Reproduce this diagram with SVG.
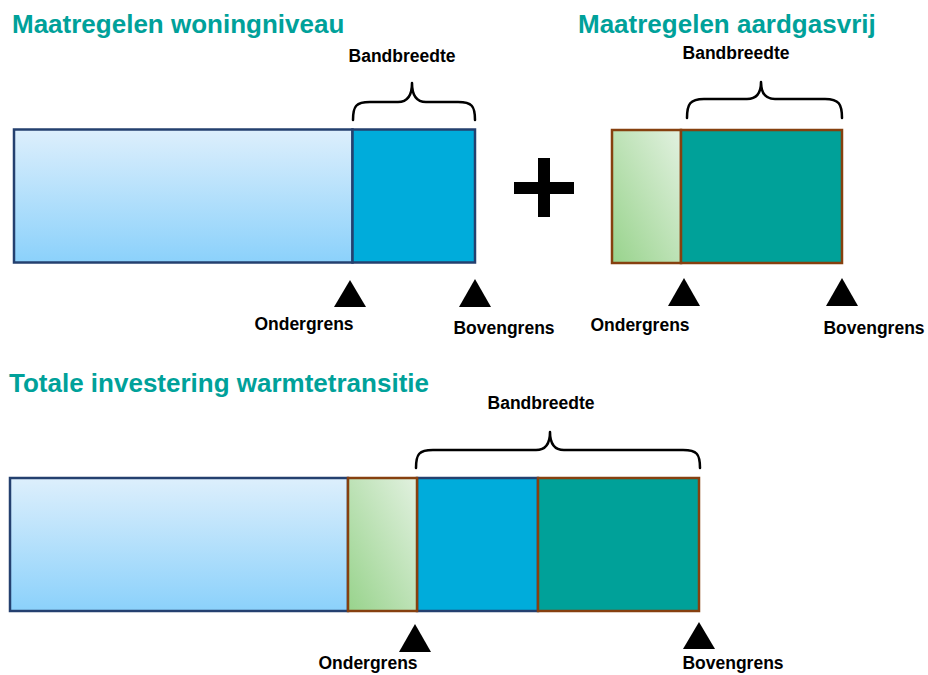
<svg xmlns="http://www.w3.org/2000/svg" width="928" height="675" viewBox="0 0 928 675">
<defs>
<linearGradient id="gBlue" x1="0" y1="0" x2="0" y2="1">
<stop offset="0" stop-color="#ddeffc"/>
<stop offset="1" stop-color="#8bd1fb"/>
</linearGradient>
<linearGradient id="gGreen" x1="0" y1="1" x2="1" y2="0">
<stop offset="0" stop-color="#98d38c"/>
<stop offset="1" stop-color="#e2f1e0"/>
</linearGradient>
<style>
.title{font-family:"Liberation Sans",Arial,sans-serif;font-weight:bold;font-size:26px;fill:#00a19a}
.lbl{font-family:"Liberation Sans",Arial,sans-serif;font-weight:bold;font-size:17.5px;fill:#000}
.navy{stroke:#24406f;stroke-width:2.5}
.brown{stroke:#86400f;stroke-width:2.5}
.lb{fill:url(#gBlue)}
.gr{fill:url(#gGreen)}
.bl{fill:#00acdb}
.tl{fill:#00a199}
.brace{fill:none;stroke:#000;stroke-width:2.5;stroke-linecap:round;stroke-linejoin:round}
.tri{fill:#000}
</style>
</defs>
<rect width="928" height="675" fill="#fff"/>

<g id="titles">
<text class="title" x="12" y="33">Maatregelen woningniveau</text>
<text class="title" x="578" y="33">Maatregelen aardgasvrij</text>
<text class="title" x="9" y="392">Totale investering warmtetransitie</text>
</g>

<g id="bar-woning">
<rect class="lb navy" x="14" y="129.5" width="338.5" height="133"/>
<rect class="bl navy" x="352.5" y="129.5" width="122.5" height="133"/>
</g>

<g id="plus">
<rect x="538" y="158" width="12" height="59" fill="#000"/>
<rect x="514" y="182" width="60" height="12" fill="#000"/>
</g>

<g id="bar-aardgas">
<rect class="gr brown" x="612" y="130" width="69" height="133"/>
<rect class="tl brown" x="681" y="130" width="161" height="133"/>
</g>

<g id="bar-totaal">
<rect class="lb navy" x="10" y="478" width="338" height="133"/>
<rect class="bl navy" x="417" y="478" width="121" height="133"/>
<rect class="gr brown" x="348" y="478" width="69" height="133"/>
<rect class="tl brown" x="538" y="478" width="161" height="133"/>
</g>

<g id="braces">
<path class="brace" d="M353,120 C353,106 356,102 370,102 L398,102 C407,102 412,96 412,83 C412,96 417,102 426,102 L458,102 C472,102 475,106 475,120"/>
<path class="brace" d="M687,118 C687,104 690,99 704,99 L747,99 C756,99 761,93 761,82 C761,93 766,99 775,99 L825,99 C839,99 842,104 842,118"/>
<path class="brace" d="M416,468 C416,454 419,450 433,450 L536,450 C545,450 550,444 550,432 C550,444 555,450 564,450 L683,450 C697,450 700,454 700,468"/>
</g>

<g id="band-labels">
<text class="lbl" x="402" y="62" text-anchor="middle">Bandbreedte</text>
<text class="lbl" x="736" y="59" text-anchor="middle">Bandbreedte</text>
<text class="lbl" x="541" y="409" text-anchor="middle">Bandbreedte</text>
</g>

<g id="markers">
<polygon class="tri" points="350,280 366,307 334,307"/>
<polygon class="tri" points="475,279 491,307 459,307"/>
<polygon class="tri" points="684,278 700,306 668,306"/>
<polygon class="tri" points="842,278 858,306 826,306"/>
<polygon class="tri" points="415,624 431,652 399,652"/>
<polygon class="tri" points="699,622 715,649 683,649"/>
</g>

<g id="limit-labels">
<text class="lbl" x="304" y="330" text-anchor="middle">Ondergrens</text>
<text class="lbl" x="504" y="334" text-anchor="middle">Bovengrens</text>
<text class="lbl" x="640" y="331" text-anchor="middle">Ondergrens</text>
<text class="lbl" x="874" y="334" text-anchor="middle">Bovengrens</text>
<text class="lbl" x="368" y="669" text-anchor="middle">Ondergrens</text>
<text class="lbl" x="733" y="669" text-anchor="middle">Bovengrens</text>
</g>
</svg>
